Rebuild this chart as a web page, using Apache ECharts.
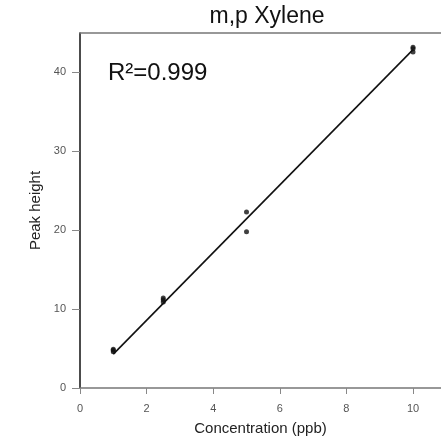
<!DOCTYPE html>
<html><head><meta charset="utf-8">
<script src="https://cdn.jsdelivr.net/npm/echarts@6/dist/echarts.min.js"></script>
<style>html,body{margin:0;padding:0;background:#fff}#c{width:441px;height:441px}</style>
</head><body><div id="c"></div>
<script>
const titleText = "m,p Xylene";
const xName = "Concentration (ppb)";
const yName = "Peak height";
const r2Text = "R\u00b2=0.999";
const xTicks = [0, 2, 4, 6, 8, 10];
const yTicks = [0, 10, 20, 30, 40];
const concentrations = [1, 1, 1, 2.5, 2.5, 2.5, 5, 5, 10, 10, 10];
const peakHeights = [4.6, 4.8, 4.9, 10.9, 11.2, 11.4, 22.3, 19.8, 42.6, 43.0, 43.2];
const fitX = [1, 10];
const fitY = [4.3, 42.9];

const pts = concentrations.map((c, i) => [c, peakHeights[i]]);
const fit = fitX.map((c, i) => [c, fitY[i]]);

const chart = echarts.init(document.getElementById('c'), null, {renderer: 'canvas'});
chart.setOption({
  animation: false,
  backgroundColor: '#fff',
  title: {text: titleText, left: 262, top: 0, textAlign: 'center',
    textStyle: {fontFamily: 'Liberation Sans', fontSize: 23, fontWeight: 'normal', color: '#111'}},
  grid: {left: 80, top: 33, right: 0, bottom: 50},
  xAxis: [{
    type: 'value', min: 0, max: 10.84, position: 'bottom',
    name: xName, nameLocation: 'middle', nameGap: 33,
    nameTextStyle: {fontFamily: 'Liberation Sans', fontSize: 15, color: '#222'},
    axisLine: {show: true, onZero: false, lineStyle: {color: '#777', width: 1.5}},
    axisTick: {show: true, inside: false, length: 6, customValues: xTicks, lineStyle: {color: '#888'}},
    axisLabel: {fontFamily: 'Liberation Sans', fontSize: 11, color: '#555', margin: 15, customValues: xTicks},
    splitLine: {show: false}
  }, {
    type: 'value', min: 0, max: 10.84, position: 'top',
    axisLine: {show: true, onZero: false, lineStyle: {color: '#777', width: 1.5}},
    axisTick: {show: false}, axisLabel: {show: false}, splitLine: {show: false}
  }],
  yAxis: {
    type: 'value', min: 0, max: 45,
    name: yName, nameLocation: 'middle', nameGap: 33, nameRotate: 90,
    nameTextStyle: {fontFamily: 'Liberation Sans', fontSize: 15, color: '#222'},
    axisLine: {show: true, onZero: false, lineStyle: {color: '#111', width: 1.5}},
    axisTick: {show: true, inside: false, length: 8, customValues: yTicks, lineStyle: {color: '#888'}},
    axisLabel: {fontFamily: 'Liberation Sans', fontSize: 11, color: '#555', margin: 14, customValues: yTicks},
    splitLine: {show: false}
  },
  series: [{
    type: 'line', data: fit, symbol: 'none', lineStyle: {color: '#111', width: 1.6}, z: 2
  }, {
    type: 'scatter', data: pts, symbol: 'circle', symbolSize: 5,
    itemStyle: {color: '#111'}, z: 3
  }],
  graphic: [{
    type: 'text', left: 108, top: 61,
    style: {text: r2Text, font: '24px "Liberation Sans"', fill: '#111'}
  }]
});
</script></body></html>
